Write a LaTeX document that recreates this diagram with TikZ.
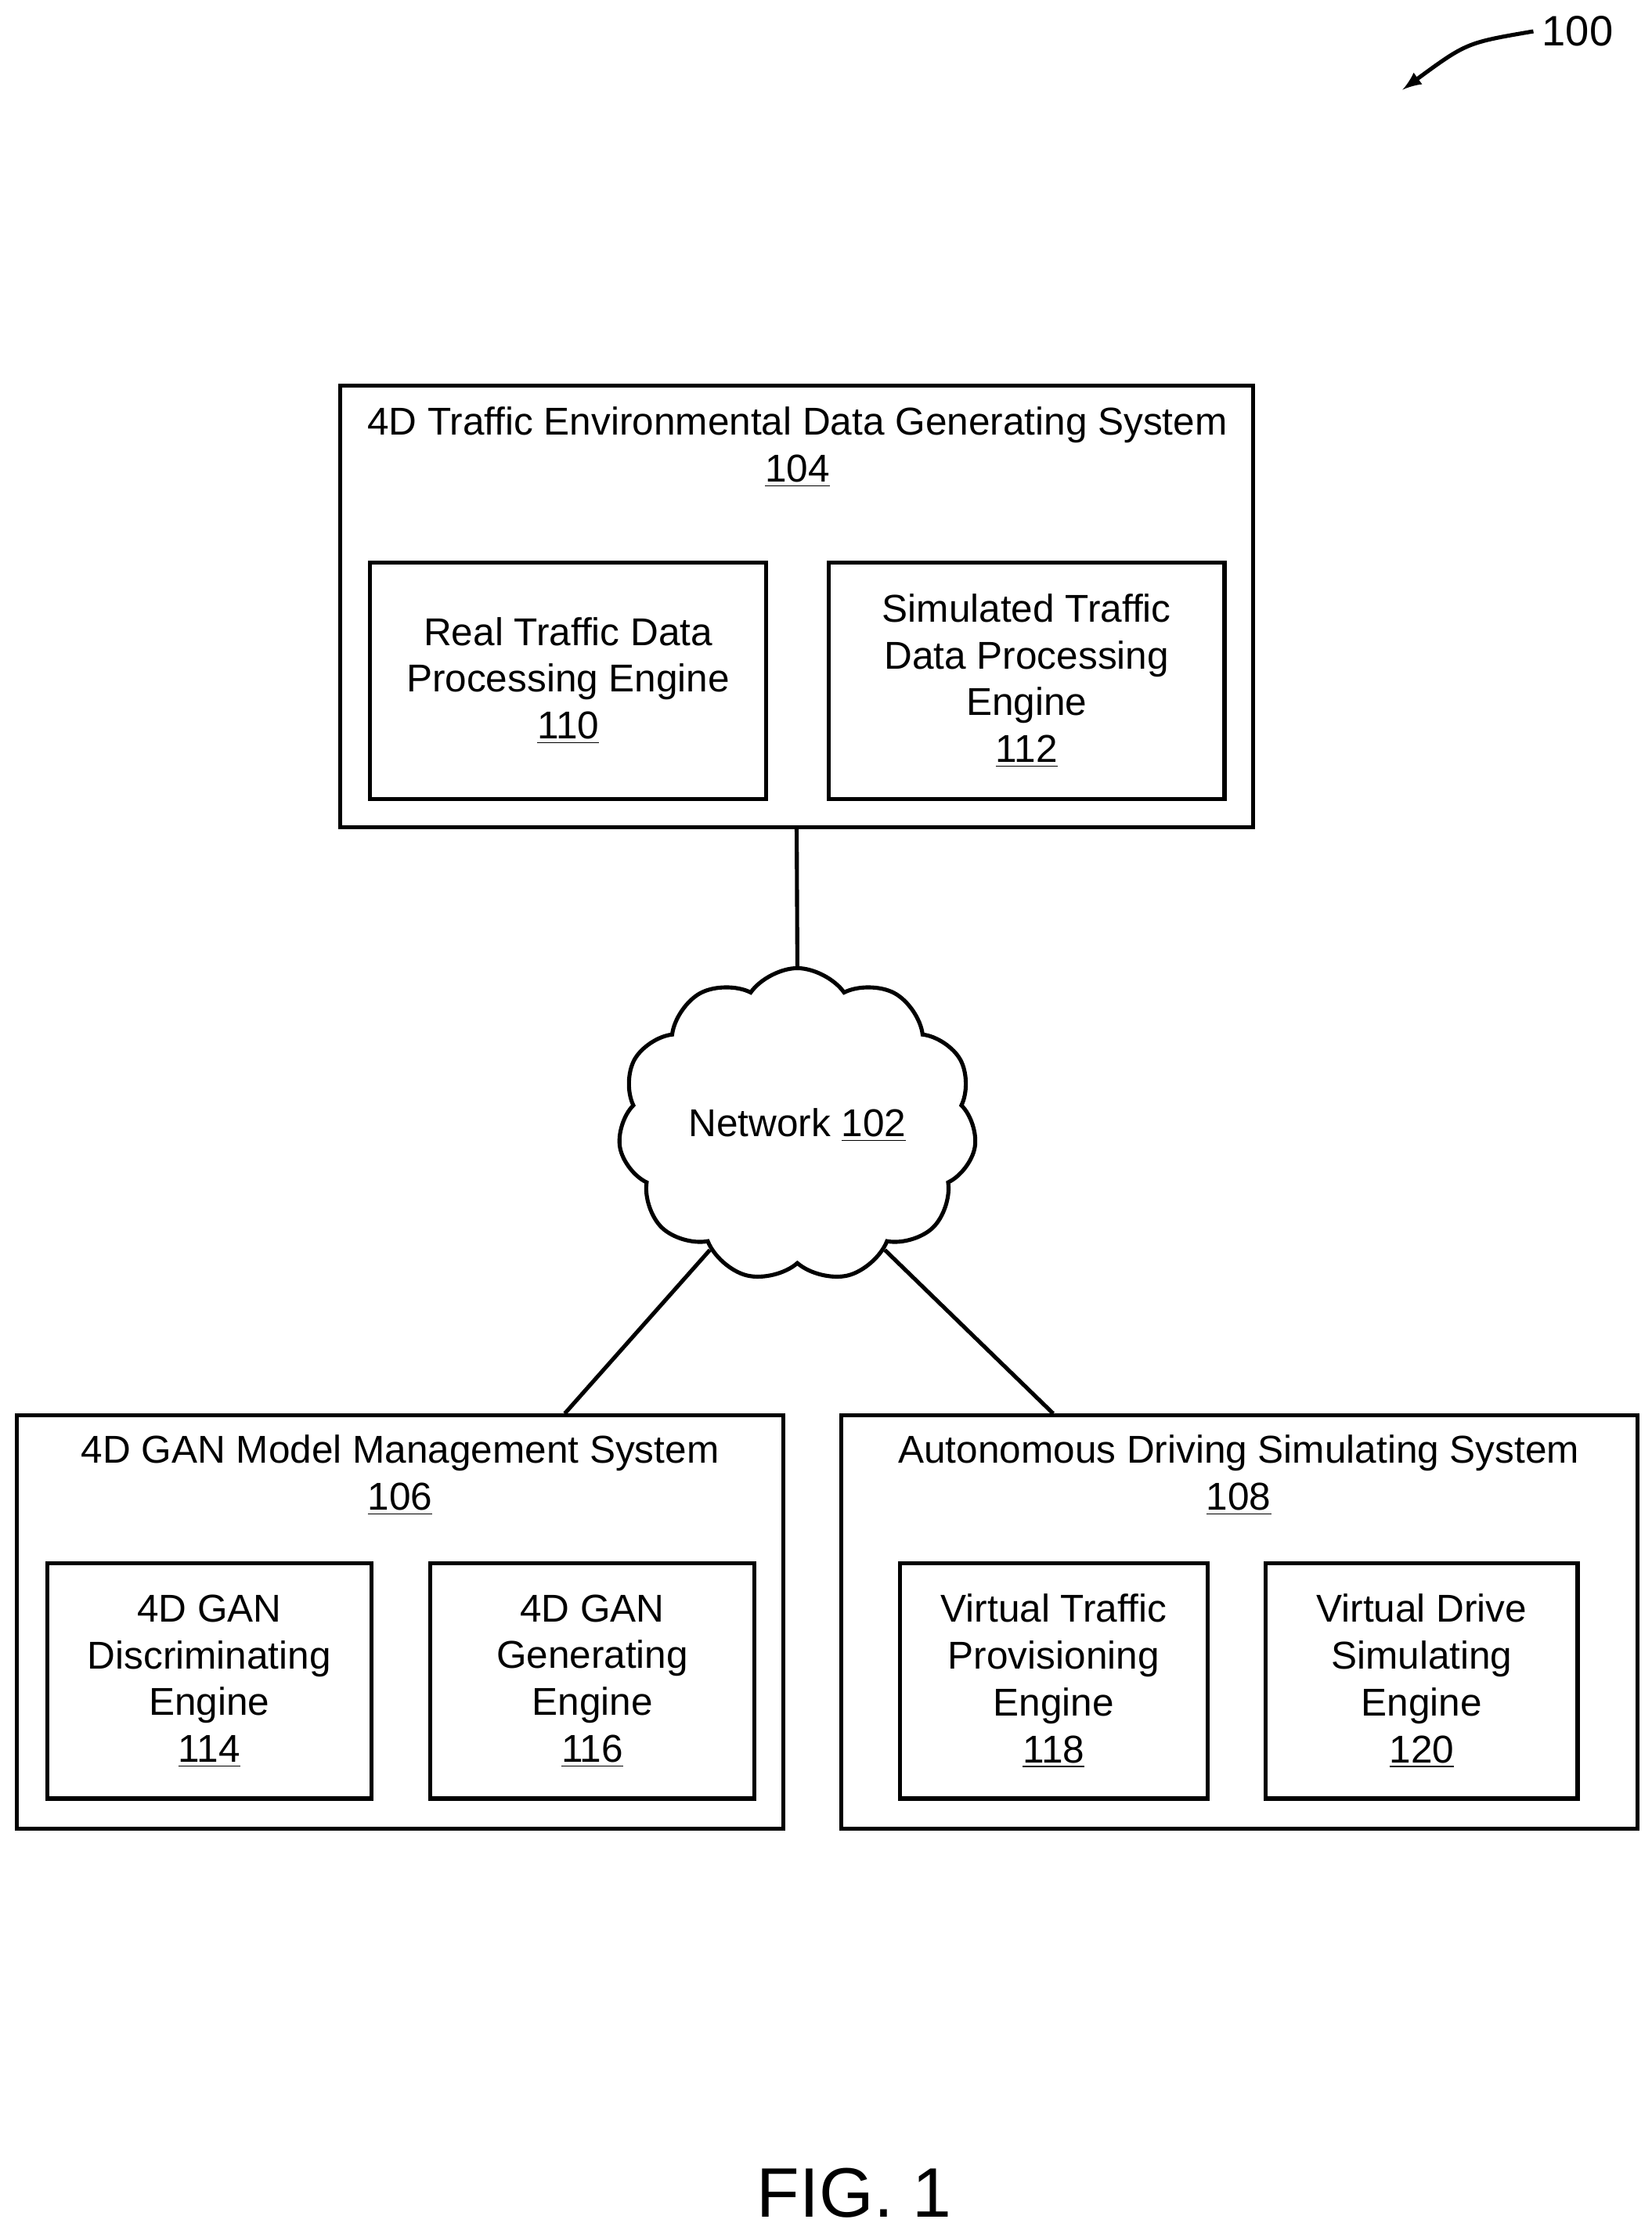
\documentclass[tikz,border=0pt]{standalone}
\usepackage{fontspec}
\setmainfont{Liberation Sans}
\usetikzlibrary{shapes.symbols,calc}
\tikzset{
  sys/.style={draw, line width=1.6pt, inner sep=0pt},
  eng/.style={draw, line width=1.6pt, align=center, inner sep=0pt,
    font=\fontsize{15.5}{18.7}\selectfont},
  ttl/.style={align=center, font=\fontsize{15.5}{18.7}\selectfont},
  link/.style={line width=1.6pt}
}
\begin{document}
\begin{tikzpicture}[x=0.02cm,y=-0.02cm]
\useasboundingbox (0,0) rectangle (1160,1566);
% top system
\node[sys, minimum width=12.82cm, minimum height=6.2cm] (s104) at (559.5,426) {};
\node[ttl] (t104) at (560,314) {4D Traffic Environmental Data Generating System\\\underline{104}};
\node[eng, minimum width=5.56cm, minimum height=3.32cm] (e110) at (399,478) {Real Traffic Data\\Processing Engine\\\underline{110}};
\node[eng, minimum width=5.56cm, minimum height=3.32cm] (e112) at (721,478) {Simulated Traffic\\Data Processing\\Engine\\\underline{112}};
% network
\node[draw, link, cloud, cloud puffs=11, cloud puff arc=110, aspect=1.2,
  minimum width=5cm, minimum height=4.2cm, font=\fontsize{15.5}{18.7}\selectfont] (net) at (560,790) {Network \underline{102}};
% bottom systems
\node[sys, minimum width=10.76cm, minimum height=5.8cm] (s106) at (281,1139) {};
\node[ttl] (t106) at (281,1036) {4D GAN Model Management System\\\underline{106}};
\node[eng, minimum width=4.56cm, minimum height=3.3cm] (e114) at (147,1180.5) {4D GAN\\Discriminating\\Engine\\\underline{114}};
\node[eng, minimum width=4.56cm, minimum height=3.3cm] (e116) at (416,1180.5) {4D GAN\\Generating\\Engine\\\underline{116}};
\node[sys, minimum width=11.18cm, minimum height=5.8cm] (s108) at (870.5,1139) {};
\node[ttl] (t108) at (870,1036) {Autonomous Driving Simulating System\\\underline{108}};
\node[eng, minimum width=4.32cm, minimum height=3.3cm] (e118) at (740,1180.5) {Virtual Traffic\\Provisioning\\Engine\\\underline{118}};
\node[eng, minimum width=4.38cm, minimum height=3.3cm] (e120) at (998.5,1180.5) {Virtual Drive\\Simulating\\Engine\\\underline{120}};
% links
\draw[link] (s104.south) -- (net.north);
\draw[link] (net.-125) -- ($(s106.north west)+(386,0)$);
\draw[link] (net.-55) -- ($(s108.north west)+(150,0)$);
% reference numeral
\node[font=\fontsize{17}{20}\selectfont] (n100) at (1108,22) {100};
\draw[line width=1.6pt, -latex] (n100.west) .. controls (1030,30) .. (985,63);
\node[font=\fontsize{28}{32}\selectfont] (fig) at (600,1540) {FIG. 1};
\end{tikzpicture}
\end{document}
